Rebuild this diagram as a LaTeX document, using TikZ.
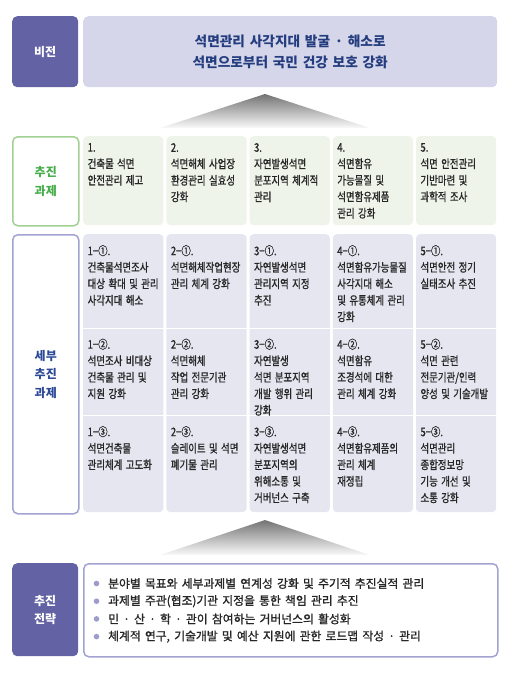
\documentclass[tikz,border=0pt]{standalone}
\usepackage{fontspec}
\newfontfamily\krfont[WordSpace=1.5]{Noto Sans CJK KR}
\newfontfamily\krmid[WordSpace=1.6,FakeBold=1.2]{Noto Sans CJK KR}
\newfontfamily\krcell[FakeStretch=0.8,WordSpace=1.6,FakeBold=1]{Noto Sans CJK KR}
\usetikzlibrary{positioning}

\definecolor{visdark}{HTML}{6262A4}
\definecolor{vislight}{HTML}{D6D6EB}
\definecolor{visnavy}{HTML}{243D7E}
\definecolor{taskline}{HTML}{A2D193}
\definecolor{tasktext}{HTML}{46AE4B}
\definecolor{taskfill}{HTML}{EFF4EA}
\definecolor{subline}{HTML}{A3A3D1}
\definecolor{subtext}{HTML}{2D4A98}
\definecolor{subfill}{HTML}{E6E6F1}
\definecolor{cellink}{HTML}{262626}
\definecolor{bulletc}{HTML}{9D9DCB}

\begin{document}
\begin{tikzpicture}[
		x=1pt, y=-1pt,
		tag/.style={minimum width=66pt, anchor=north west, rounded corners=5pt, align=center, inner sep=0pt, font=\krfont\bfseries\fontsize{12}{19}\selectfont},
		wide/.style={minimum width=414pt, anchor=north west, rounded corners=5pt, align=center, inner sep=0pt},
		cell/.style={minimum width=80.2pt, anchor=north west, rounded corners=4pt, inner sep=0pt},
		celltext/.style={align=left, inner sep=0pt, text=cellink, font=\krcell\fontsize{11.8}{16.5}\selectfont},
		bullet/.style={anchor=west, inner sep=0pt, text=cellink, font=\krmid\fontsize{11.8}{14}\selectfont},
		funnel/.style={top color=black!55, bottom color=black!2},
	]
		\useasboundingbox (0,0) rectangle (524,677);

		% vision
		\node (vislab) [tag, fill=visdark, text=white, minimum height=71pt] at (12,16) {비전};
		\node (vis) [wide, fill=vislight, minimum height=71pt, text=visnavy, font=\krfont\bfseries\fontsize{13.7}{21}\selectfont] at (83,16) {석면관리 사각지대 발굴 · 해소로\\석면으로부터 국민 건강 보호 강화};
		\shade[funnel] (265,94) -- (370,128) -- (160,128) -- cycle;

		% tasks
		\node (tasklab) [tag, draw=taskline, line width=1.5pt, fill=white, text=tasktext, minimum height=89pt] at (12,136) {추진\\과제};
		\node (task1) [cell, fill=taskfill, minimum height=89pt] at (83,136) {};
		\node (task2) [cell, fill=taskfill, minimum height=89pt] at (166.2,136) {};
		\node (task3) [cell, fill=taskfill, minimum height=89pt] at (249.4,136) {};
		\node (task4) [cell, fill=taskfill, minimum height=89pt] at (332.6,136) {};
		\node (task5) [cell, fill=taskfill, minimum height=89pt] at (415.8,136) {};
		\node (task1txt) [celltext, below right=7pt and 4.5pt of task1.north west] {1.\\건축물 석면\\안전관리 제고};
		\node (task2txt) [celltext, below right=7pt and 4.5pt of task2.north west] {2.\\석면해체 사업장\\환경관리 실효성\\강화};
		\node (task3txt) [celltext, below right=7pt and 4.5pt of task3.north west] {3.\\자연발생석면\\분포지역 체계적\\관리};
		\node (task4txt) [celltext, below right=7pt and 4.5pt of task4.north west] {4.\\석면함유\\가능물질 및\\석면함유제품\\관리 강화};
		\node (task5txt) [celltext, below right=7pt and 4.5pt of task5.north west] {5.\\석면 안전관리\\기반마련 및\\과학적 조사};

		% detailed tasks
		\node (sublab) [tag, draw=subline, line width=1.5pt, fill=white, text=subtext, font=\krfont\bfseries\fontsize{12}{18.5}\selectfont, minimum height=279pt] at (12,234) {세부\\추진\\과제};
		\node (sub1) [cell, fill=subfill, minimum height=278pt] at (83,234) {};
		\node (sub2) [cell, fill=subfill, minimum height=278pt] at (166.2,234) {};
		\node (sub3) [cell, fill=subfill, minimum height=278pt] at (249.4,234) {};
		\node (sub4) [cell, fill=subfill, minimum height=278pt] at (332.6,234) {};
		\node (sub5) [cell, fill=subfill, minimum height=278pt] at (415.8,234) {};
		\draw[white, line width=1pt] (83,328) -- (496,328);
		\draw[white, line width=1pt] (83,415) -- (496,415);

		\node (sub11) [celltext, below right=11pt and 4.5pt of sub1.north west] {1−①.\\건축물석면조사\\대상 확대 및 관리\\사각지대 해소};
		\node (sub21) [celltext, below right=11pt and 4.5pt of sub2.north west] {2−①.\\석면해체작업현장\\관리 체계 강화};
		\node (sub31) [celltext, below right=11pt and 4.5pt of sub3.north west] {3−①.\\자연발생석면\\관리지역 지정\\추진};
		\node (sub41) [celltext, below right=11pt and 4.5pt of sub4.north west] {4−①.\\석면함유가능물질\\사각지대 해소\\및 유통체계 관리\\강화};
		\node (sub51) [celltext, below right=11pt and 4.5pt of sub5.north west] {5−①.\\석면안전 정기\\실태조사 추진};

		\node (sub12) [celltext, below right=104.5pt and 4.5pt of sub1.north west] {1−②.\\석면조사 비대상\\건축물 관리 및\\지원 강화};
		\node (sub22) [celltext, below right=104.5pt and 4.5pt of sub2.north west] {2−②.\\석면해체\\작업 전문기관\\관리 강화};
		\node (sub32) [celltext, below right=104.5pt and 4.5pt of sub3.north west] {3−②.\\자연발생\\석면 분포지역\\개발 행위 관리\\강화};
		\node (sub42) [celltext, below right=104.5pt and 4.5pt of sub4.north west] {4−②.\\석면함유\\조경석에 대한\\관리 체계 강화};
		\node (sub52) [celltext, below right=104.5pt and 4.5pt of sub5.north west] {5−②.\\석면 관련\\전문기관/인력\\양성 및 기술개발};

		\node (sub13) [celltext, below right=192pt and 4.5pt of sub1.north west] {1−③.\\석면건축물\\관리체계 고도화};
		\node (sub23) [celltext, below right=192pt and 4.5pt of sub2.north west] {2−③.\\슬레이트 및 석면\\폐기물 관리};
		\node (sub33) [celltext, below right=192pt and 4.5pt of sub3.north west] {3−③.\\자연발생석면\\분포지역의\\위해소통 및\\거버넌스 구축};
		\node (sub43) [celltext, below right=192pt and 4.5pt of sub4.north west] {4−③.\\석면함유제품의\\관리 체계\\재정립};
		\node (sub53) [celltext, below right=192pt and 4.5pt of sub5.north west] {5−③.\\석면관리\\종합정보망\\기능 개선 및\\소통 강화};

		\shade[funnel] (265,520) -- (370,555) -- (160,555) -- cycle;

		% strategy
		\node (stratlab) [tag, fill=visdark, text=white, font=\krfont\bfseries\fontsize{12}{18}\selectfont, minimum height=93pt] at (12,563) {추진\\전략};
		\node (strat) [wide, draw=subline, line width=1.5pt, fill=white, minimum height=93pt] at (83,563) {};
		\node (strat1) [bullet] at (108,583.5) {분야별 목표와 세부과제별 연계성 강화 및 주기적 추진실적 관리};
		\node (strat2) [bullet] at (108,601.2) {과제별 주관(협조)기관 지정을 통한 책임 관리 추진};
		\node (strat3) [bullet] at (108,618.9) {민 · 산 · 학 · 관이 참여하는 거버넌스의 활성화};
		\node (strat4) [bullet] at (108,636.6) {체계적 연구, 기술개발 및 예산 지원에 관한 로드맵 작성 · 관리};
		\fill[bulletc] ([xshift=-11.5pt]strat1.west) circle (2.8pt);
		\fill[bulletc] ([xshift=-11.5pt]strat2.west) circle (2.8pt);
		\fill[bulletc] ([xshift=-11.5pt]strat3.west) circle (2.8pt);
		\fill[bulletc] ([xshift=-11.5pt]strat4.west) circle (2.8pt);
	\end{tikzpicture}
\end{document}
